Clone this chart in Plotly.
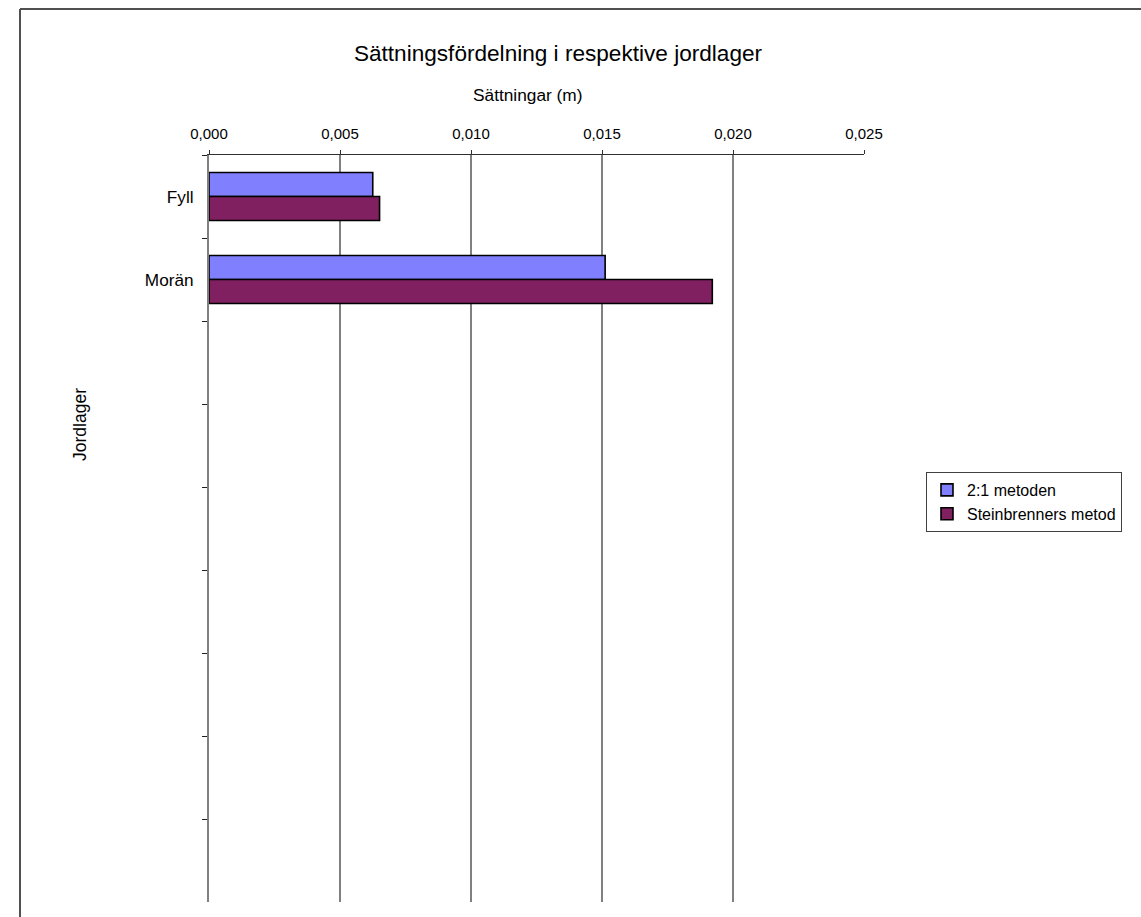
import plotly.graph_objects as go

# ---- data ----
categories = ["Fyll", "Morän"]
n_empty_slots = 7
series_names = ["2:1 metoden", "Steinbrenners metod"]
values_21 = [0.00625, 0.01512]
values_stein = [0.00651, 0.01921]
x_tick_vals = [0.000, 0.005, 0.010, 0.015, 0.020, 0.025]
x_tick_text = ["0,000", "0,005", "0,010", "0,015", "0,020", "0,025"]

title_text = "Sättningsfördelning i respektive jordlager"
x_title = "Sättningar (m)"
y_title = "Jordlager"

# ---- layout constants ----
W, H = 1141, 917
L, R, T, B = 209, 864, 155, 902
PW, PH = R - L, B - T

def px(x):
    return (x - L) / PW

def py(y):
    return (B - y) / PH

FONT = "Liberation Sans, Arial, sans-serif"
cat_array = categories + [" " * (i + 1) for i in range(n_empty_slots)]

fig = go.Figure()
fig.add_trace(go.Bar(
    name=series_names[0], y=categories, x=values_21, orientation="h",
    marker=dict(color="#8080FF", line=dict(color="#000000", width=1.6)),
    legendgroup="a",
))
fig.add_trace(go.Bar(
    name=series_names[1], y=categories, x=values_stein, orientation="h",
    marker=dict(color="#802060", line=dict(color="#000000", width=1.6)),
    legendgroup="b",
))

fig.update_layout(
    width=W, height=H,
    margin=dict(l=L, r=W - R, t=T, b=H - B, pad=0),
    paper_bgcolor="white", plot_bgcolor="white",
    font=dict(family=FONT, color="#000000", size=15),
    barmode="group", bargap=0.42, bargroupgap=0.0,
    title=dict(text=title_text, x=558 / W, xref="container", xanchor="center",
               y=1 - 53 / H, yref="container", yanchor="middle",
               font=dict(size=22.6, family=FONT, color="#000000")),
    showlegend=True,
    legend=dict(x=px(926), y=py(472), xanchor="left", yanchor="top",
                xref="paper", yref="paper",
                bordercolor="#404040", borderwidth=1, bgcolor="white",
                font=dict(size=16, family=FONT), tracegroupgap=6,
                traceorder="normal", itemwidth=30),
    xaxis=dict(
        side="top", range=[0, 0.025], tickmode="array",
        tickvals=x_tick_vals, ticktext=x_tick_text,
        showgrid=True, gridcolor="#808080", gridwidth=1.5,
        showline=True, linecolor="#303030", linewidth=1, mirror=False,
        ticks="outside", ticklen=4, tickcolor="#303030",
        tickfont=dict(size=15), ticklabelstandoff=5,
        zeroline=False, fixedrange=True,
    ),
    yaxis=dict(
        type="category", categoryorder="array", categoryarray=cat_array,
        range=[len(cat_array) - 0.5, -0.5],
        tickson="boundaries", ticks="outside", ticklen=5, tickcolor="#202020",
        showline=True, linecolor="#808080", linewidth=2,
        showgrid=False, zeroline=False,
        tickfont=dict(size=17.2), ticklabelstandoff=10, fixedrange=True,
    ),
    annotations=[
        dict(text=x_title, x=px(528), y=py(95), xref="paper", yref="paper",
             xanchor="center", yanchor="middle", showarrow=False,
             font=dict(size=17.3, family=FONT)),
        dict(text=y_title, x=px(80), y=py(425), xref="paper", yref="paper",
             xanchor="center", yanchor="middle", showarrow=False, textangle=-90,
             font=dict(size=17.5, family=FONT)),
    ],
    shapes=[
        dict(type="rect", xref="paper", yref="paper",
             x0=px(1128), x1=px(1145), y0=py(0), y1=py(920),
             line=dict(width=0), fillcolor="white", layer="above"),
        dict(type="line", xref="paper", yref="paper",
             x0=px(20), x1=px(1141), y0=py(9), y1=py(9),
             line=dict(color="#505050", width=2), layer="above"),
        dict(type="line", xref="paper", yref="paper",
             x0=px(20), x1=px(20), y0=py(9), y1=py(917),
             line=dict(color="#505050", width=2), layer="below"),
    ],
)

fig.write_html(
    "out.html",
    config={"displayModeBar": False},
    post_script="document.body.style.margin='0';document.body.style.overflow='hidden';"
                "document.documentElement.style.overflow='hidden';",
)
